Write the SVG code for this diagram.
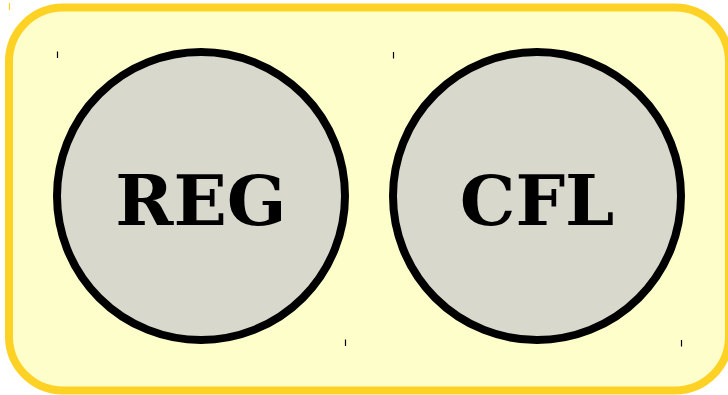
<svg xmlns="http://www.w3.org/2000/svg" width="728" height="395" viewBox="0 0 728 395">
  <style>
    .frame { fill: #fefecb; stroke: #fed225; stroke-width: 8; }
    .node circle { fill: #d8d8cc; stroke: #000000; stroke-width: 8; }
    .node text { font-family: "DejaVu Serif", "Liberation Serif", serif; font-weight: bold; font-size: 70px; text-anchor: middle; fill: #000000; }
    .tick { stroke: #000000; stroke-width: 1.2; }
    .tick-gold { stroke: #fed225; stroke-width: 1.2; }
  </style>
  <g id="frame">
    <rect class="frame" x="9" y="7.5" width="720" height="383" rx="54" ry="54"/>
    <line class="tick-gold" x1="9.5" y1="3" x2="9.5" y2="10"/>
  </g>
  <g id="node-reg" class="node">
    <circle cx="201" cy="196" r="144"/>
    <text x="201" y="225">REG</text>
    <line class="tick" x1="57.5" y1="51.5" x2="57.5" y2="58"/>
    <line class="tick" x1="345.5" y1="339.5" x2="345.5" y2="346"/>
  </g>
  <g id="node-cfl" class="node">
    <circle cx="537" cy="196" r="144"/>
    <text x="537" y="225">CFL</text>
    <line class="tick" x1="393.5" y1="52" x2="393.5" y2="58.5"/>
    <line class="tick" x1="681.5" y1="340" x2="681.5" y2="346.5"/>
  </g>
  <g id="connectors"></g>
</svg>
